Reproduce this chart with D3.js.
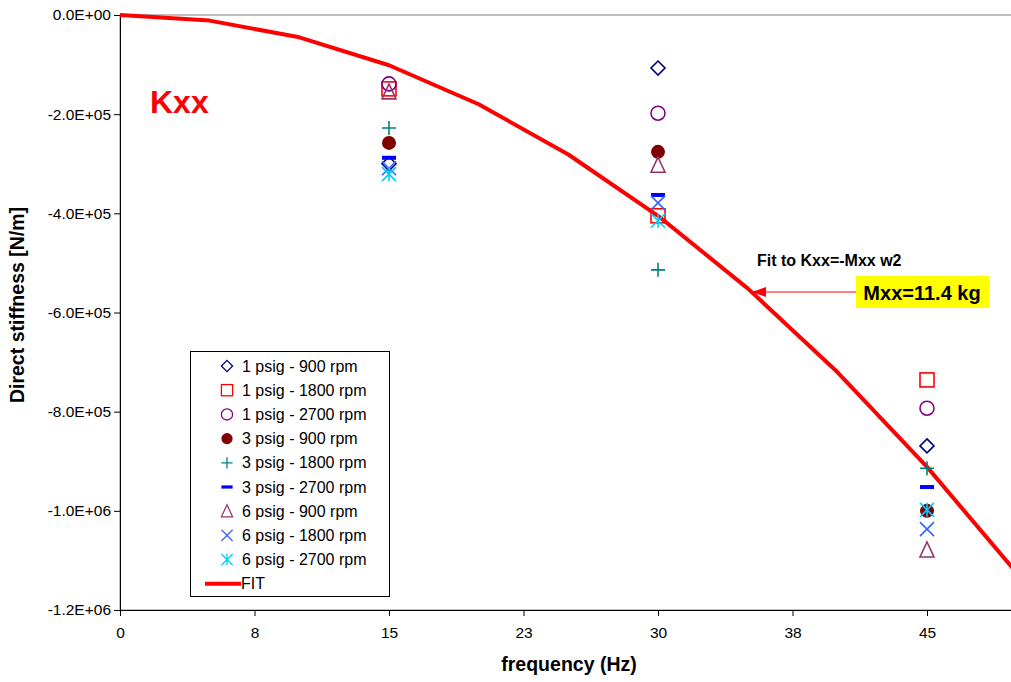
<!DOCTYPE html>
<html>
<head>
<meta charset="utf-8">
<script src="https://cdn.jsdelivr.net/npm/d3@7"></script>
<style>
  body { margin:0; background:#fff; }
  svg { display:block; font-family: Arial, "Liberation Sans", sans-serif; }
</style>
</head>
<body>
<svg id="chart" width="1011" height="682"></svg>
<script>
// frequencies of the tests (Hz)
const freqs = [15, 30, 45];

// series (legend order), values in N/m at 15, 30, 45 Hz
const seriesNames = [
  "1 psig - 900 rpm", "1 psig - 1800 rpm", "1 psig - 2700 rpm",
  "3 psig - 900 rpm", "3 psig - 1800 rpm", "3 psig - 2700 rpm",
  "6 psig - 900 rpm", "6 psig - 1800 rpm", "6 psig - 2700 rpm"
];
const p1_900  = [-3.0e5, -1.07e5, -8.69e5];
const p1_1800 = [-1.49e5, -4.05e5, -7.36e5];
const p1_2700 = [-1.39e5, -1.98e5, -7.93e5];
const p3_900  = [-2.58e5, -2.76e5, -1.0e6];
const p3_1800 = [-2.28e5, -5.14e5, -9.14e5];
const p3_2700 = [-2.88e5, -3.63e5, -9.52e5];
const p6_900  = [-1.55e5, -3.03e5, -1.079e6];
const p6_1800 = [-3.09e5, -3.79e5, -1.037e6];
const p6_2700 = [-3.21e5, -4.15e5, -9.98e5];
const seriesValues = [p1_900, p1_1800, p1_2700, p3_900, p3_1800, p3_2700, p6_900, p6_1800, p6_2700];

// fit curve Kxx = -Mxx w^2, Mxx = 11.4 kg
const fitFreq = [0, 5, 10, 15, 20, 25, 30, 35, 40, 45, 50];
const fitK = [0, -1.13e4, -4.50e4, -1.013e5, -1.800e5, -2.813e5, -4.050e5, -5.513e5, -7.201e5, -9.114e5, -1.1251e6];

const xTicks = [0, 7.5, 15, 22.5, 30, 37.5, 45, 52.5];
const xTickLabels = ["0", "8", "15", "23", "30", "38", "45", ""];
const yTicks = [0, -2e5, -4e5, -6e5, -8e5, -1e6, -1.2e6];
const yTickLabels = ["0.0E+00", "-2.0E+05", "-4.0E+05", "-6.0E+05", "-8.0E+05", "-1.0E+06", "-1.2E+06"];

const markers = ["diamond", "square", "circle", "dot", "plus", "dash", "triangle", "cross", "star"];
const colors = ["#000080", "#ff0000", "#800080", "#800000", "#008080", "#0000ff", "#993366", "#3366ff", "#00ccff"];

const plot = { left:120, top:15, bottom:610, right:1061.5 };

const svg = d3.select("#chart");

const x = d3.scaleLinear().domain([0, 52.5]).range([plot.left, plot.right]);
const y = d3.scaleLinear().domain([-1.2e6, 0]).range([plot.bottom, plot.top]);

// plot area border
svg.append("rect")
  .attr("x", plot.left).attr("y", plot.top)
  .attr("width", plot.right - plot.left).attr("height", plot.bottom - plot.top)
  .attr("fill", "none").attr("stroke", "#808080").attr("stroke-width", 1);

// axes
const yAxis = svg.append("g")
  .attr("transform", `translate(${plot.left},0)`)
  .call(d3.axisLeft(y).tickValues(yTicks).tickSize(6).tickSizeOuter(0)
    .tickFormat((d, i) => yTickLabels[i]));

const xAxis = svg.append("g")
  .attr("transform", `translate(0,${plot.bottom})`)
  .call(d3.axisBottom(x).tickValues(xTicks).tickSize(6).tickSizeOuter(0)
    .tickFormat((d, i) => xTickLabels[i]));

[yAxis, xAxis].forEach(a => {
  a.selectAll("path, line").attr("stroke", "#000").attr("stroke-width", 1);
  a.selectAll("text").attr("font-size", 15.5).attr("fill", "#000")
    .attr("font-family", "Arial, 'Liberation Sans', sans-serif");
});
yAxis.selectAll("text").attr("x", -9);
xAxis.selectAll("text").attr("y", 17);

// axis titles
svg.append("text")
  .attr("x", 569).attr("y", 671)
  .attr("text-anchor", "middle")
  .attr("font-size", 19.5).attr("font-weight", "bold")
  .text("frequency (Hz)");

svg.append("text")
  .attr("transform", "translate(24,305) rotate(-90)")
  .attr("text-anchor", "middle")
  .attr("font-size", 19.5).attr("font-weight", "bold")
  .text("Direct stiffness [N/m]");

// clip to plot area
svg.append("clipPath").attr("id", "clip")
  .append("rect")
  .attr("x", plot.left).attr("y", plot.top - 5)
  .attr("width", plot.right - plot.left).attr("height", plot.bottom - plot.top + 5);

// fit line
const fitData = fitFreq.map((f, i) => [f, fitK[i]]);
svg.append("path")
  .datum(fitData)
  .attr("clip-path", "url(#clip)")
  .attr("fill", "none")
  .attr("stroke", "#ff0000")
  .attr("stroke-width", 4)
  .attr("stroke-linejoin", "round")
  .attr("d", d3.line().x(d => x(d[0])).y(d => y(d[1])));

// marker drawing
function drawMarker(sel, type, color, cx, cy) {
  const g = sel.append("g").attr("transform", `translate(${cx},${cy})`);
  const s = 7;
  if (type === "diamond") {
    g.append("path").attr("d", `M0,${-s}L${s},0L0,${s}L${-s},0Z`)
      .attr("fill", "none").attr("stroke", color).attr("stroke-width", 1.6);
  } else if (type === "square") {
    g.append("rect").attr("x", -s).attr("y", -s).attr("width", 2 * s).attr("height", 2 * s)
      .attr("fill", "none").attr("stroke", color).attr("stroke-width", 1.6);
  } else if (type === "circle") {
    g.append("circle").attr("r", s).attr("fill", "none").attr("stroke", color).attr("stroke-width", 1.6);
  } else if (type === "dot") {
    g.append("circle").attr("r", s).attr("fill", color);
  } else if (type === "plus") {
    g.append("path").attr("d", `M${-s},0H${s}M0,${-s}V${s}`)
      .attr("stroke", color).attr("stroke-width", 1.6);
  } else if (type === "dash") {
    g.append("rect").attr("x", -s).attr("y", -2).attr("width", 2 * s).attr("height", 4)
      .attr("fill", color);
  } else if (type === "triangle") {
    g.append("path").attr("d", `M0,${-s - 1}L${s},${s}L${-s},${s}Z`)
      .attr("fill", "none").attr("stroke", color).attr("stroke-width", 1.6);
  } else if (type === "cross") {
    g.append("path").attr("d", `M${-s},${-s}L${s},${s}M${-s},${s}L${s},${-s}`)
      .attr("stroke", color).attr("stroke-width", 1.6);
  } else if (type === "star") {
    g.append("path").attr("d", `M${-s},${-s}L${s},${s}M${-s},${s}L${s},${-s}M0,${-s}V${s}`)
      .attr("stroke", color).attr("stroke-width", 1.6);
  }
}

// data points
const pts = svg.append("g");
seriesValues.forEach((vals, si) => {
  vals.forEach((v, j) => {
    drawMarker(pts, markers[si], colors[si], x(freqs[j]), y(v));
  });
});

// Kxx label
svg.append("text")
  .attr("x", 150).attr("y", 113)
  .attr("font-size", 32).attr("font-weight", "bold")
  .attr("fill", "#ff0000")
  .text("Kxx");

// annotation
svg.append("text")
  .attr("x", 757).attr("y", 266)
  .attr("font-size", 16).attr("font-weight", "bold")
  .text("Fit to Kxx=-Mxx w2");

svg.append("line")
  .attr("x1", 856).attr("y1", 292).attr("x2", 762).attr("y2", 292)
  .attr("stroke", "#ff0000").attr("stroke-width", 1);
svg.append("path")
  .attr("d", "M752,292L766,287L766,297Z")
  .attr("fill", "#ff0000");

svg.append("rect")
  .attr("x", 856).attr("y", 276).attr("width", 133).attr("height", 32)
  .attr("fill", "#ffff00");
svg.append("text")
  .attr("x", 922).attr("y", 299.5)
  .attr("text-anchor", "middle")
  .attr("font-size", 20).attr("font-weight", "bold")
  .text("Mxx=11.4 kg");

// legend
const legend = svg.append("g");
legend.append("rect")
  .attr("x", 190.5).attr("y", 351.5).attr("width", 199).attr("height", 245)
  .attr("fill", "#fff").attr("stroke", "#000").attr("stroke-width", 1);

const rowY = i => 366 + i * 24.2;
seriesNames.forEach((name, i) => {
  const g = legend.append("g");
  drawMarker(g, markers[i], colors[i], 227, rowY(i));
  g.select("g").attr("transform", `translate(227,${rowY(i)}) scale(0.8)`);
  g.append("text")
    .attr("x", 242).attr("y", rowY(i) + 5.5)
    .attr("font-size", 16)
    .text(name);
});
legend.append("line")
  .attr("x1", 205).attr("x2", 241)
  .attr("y1", rowY(9)).attr("y2", rowY(9))
  .attr("stroke", "#ff0000").attr("stroke-width", 4);
legend.append("text")
  .attr("x", 241).attr("y", rowY(9) + 5.5)
  .attr("font-size", 16)
  .text("FIT");
</script>
</body>
</html>
